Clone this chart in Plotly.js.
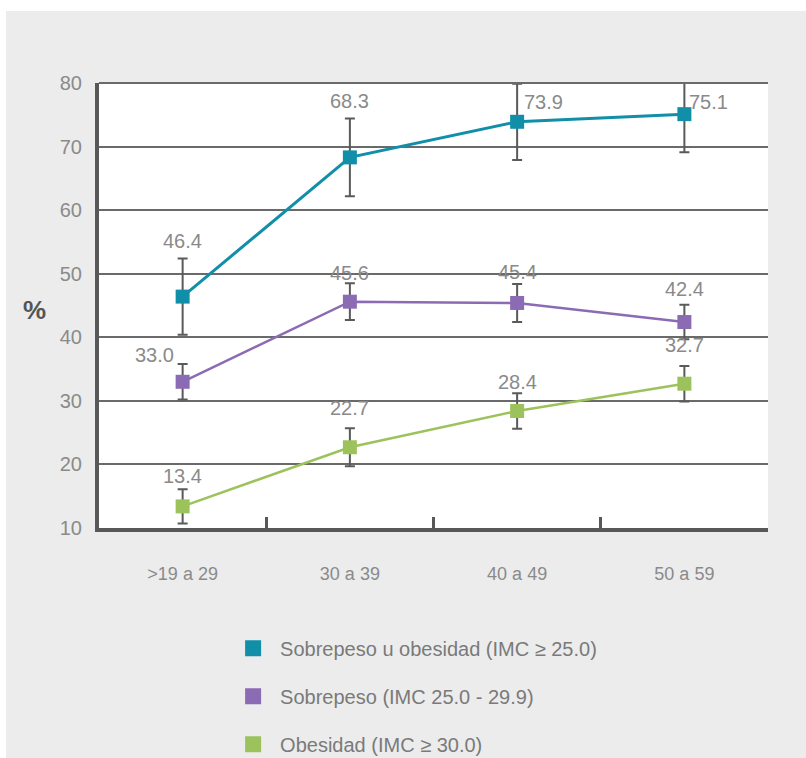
<!DOCTYPE html>
<html>
<head>
<meta charset="utf-8">
<script src="https://cdn.plot.ly/plotly-3.0.1.min.js"></script>
<style>
  html, body { margin: 0; padding: 0; background: #ffffff; width: 806px; height: 758px; overflow: hidden; }
  #chart { position: absolute; left: 6px; top: 11px; width: 800px; height: 747px; }
</style>
</head>
<body>
<div id="chart"></div>
<script>
// ---- data ----
const categories = ['>19 a 29', '30 a 39', '40 a 49', '50 a 59'];
const seriesNames = [
  'Sobrepeso u obesidad (IMC \u2265 25.0)',
  'Sobrepeso (IMC 25.0 - 29.9)',
  'Obesidad (IMC \u2265 30.0)'
];
const sobrepesoUObesidad = [46.4, 68.3, 73.9, 75.1];
const sobrepeso = [33.0, 45.6, 45.4, 42.4];
const obesidad = [13.4, 22.7, 28.4, 32.7];
const errSobrepesoUObesidad = [6.0, 6.1, 6.0, 6.0];
const errSobrepeso = [2.8, 2.9, 3.0, 2.7];
const errObesidad = [2.7, 3.0, 2.8, 2.8];
const yTickVals = [10, 20, 30, 40, 50, 60, 70, 80];

// ---- styling ----
const colors = ['#118fa9', '#8b6bb3', '#9cc35b'];
const lineWidths = [3, 2.5, 2.5];
const allValues = [sobrepesoUObesidad, sobrepeso, obesidad];
const allErrors = [errSobrepesoUObesidad, errSobrepeso, errObesidad];
// label offsets in pixels (layout only)
const labelShift = [
  [[0, 56], [0, 56], [26, 20], [24, 12]],
  [[-28, 27], [0, 29], [0, 31], [0, 33]],
  [[0, 30], [0, 39], [0, 29], [0, 39]]
];

const traces = [];
allValues.forEach((vals, i) => {
  traces.push({
    x: categories, y: vals, type: 'scatter', mode: 'lines+markers',
    line: { color: colors[i], width: lineWidths[i] },
    marker: { symbol: 'square', size: 14, color: colors[i] },
    error_y: { type: 'data', array: allErrors[i], visible: true, color: '#5a5a5a', thickness: 2, width: 5 },
    showlegend: false, hoverinfo: 'x+y'
  });
});
allValues.forEach((vals, i) => {
  traces.push({
    x: [null], y: [null], type: 'scatter', mode: 'markers',
    name: seriesNames[i], legendgroup: 'g' + i,
    marker: { symbol: 'square', size: 20, color: colors[i] },
    showlegend: true
  });
});

const annotations = [];
allValues.forEach((vals, i) => {
  vals.forEach((v, j) => {
    annotations.push({
      x: categories[j], y: v, xref: 'x', yref: 'y',
      text: v.toFixed(1), showarrow: false,
      xshift: labelShift[i][j][0], yshift: labelShift[i][j][1],
      font: { family: 'Liberation Sans, Arial, sans-serif', size: 20, color: '#8a8a8a' }
    });
  });
});
annotations.push({
  xref: 'paper', yref: 'paper', x: -0.076, y: 0.49, xanchor: 'right',
  text: '%', showarrow: false,
  font: { family: 'Liberation Sans, Arial, sans-serif', size: 26, color: '#555555', weight: 'bold' }
});

const layout = {
  width: 800, height: 747,
  margin: { l: 93, r: 38, t: 72, b: 230, autoexpand: false },
  paper_bgcolor: '#ececec',
  plot_bgcolor: '#ffffff',
  font: { family: 'Liberation Sans, Arial, sans-serif', color: '#8a8a8a' },
  xaxis: {
    type: 'category', range: [-0.5, 3.5],
    showline: true, linecolor: '#58585a', linewidth: 4,
    ticks: 'inside', tickson: 'boundaries', ticklen: 11, tickwidth: 3, tickcolor: '#58585a',
    showgrid: false, zeroline: false,
    tickfont: { size: 18, color: '#8a8a8a' },
    ticklabelstandoff: 26
  },
  yaxis: {
    range: [10, 80], tickvals: yTickVals,
    showline: true, linecolor: '#58585a', linewidth: 4,
    showgrid: true, gridcolor: '#6a6a6a', gridwidth: 2,
    zeroline: false, ticks: '',
    tickfont: { size: 20, color: '#8a8a8a' },
    ticklabelstandoff: 9
  },
  shapes: [
    { type: 'line', xref: 'paper', yref: 'paper', x0: 0, x1: 1, y0: 1, y1: 1,
      line: { color: '#6a6a6a', width: 2 } }
  ],
  annotations: annotations,
  legend: {
    x: 0.19, xref: 'paper', y: 0.173, yref: 'container', xanchor: 'left', yanchor: 'top',
    bgcolor: 'rgba(0,0,0,0)',
    font: { size: 20, color: '#7a7a7a' },
    tracegroupgap: 19, itemwidth: 44
  },
  showlegend: true
};

Plotly.newPlot('chart', traces, layout, { displayModeBar: false, staticPlot: true });
</script>
</body>
</html>
